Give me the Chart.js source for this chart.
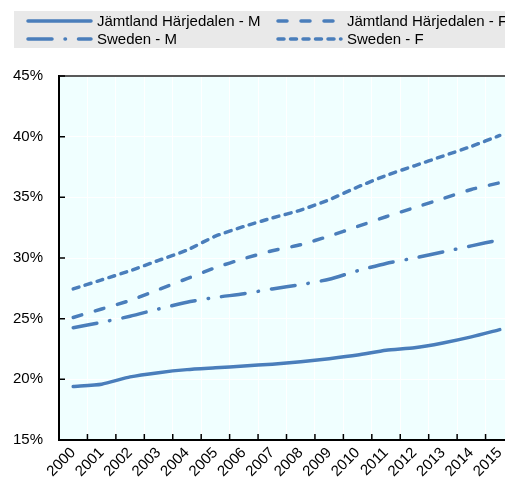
<!DOCTYPE html>
<html lang="en">
<head>
  <meta charset="UTF-8" />
  <title>Jämtland Härjedalen vs Sweden</title>
  <script src="https://cdn.jsdelivr.net/npm/chart.js"></script>
  <style>
    html, body {
      margin: 0;
      padding: 0;
      background: #fff;
      overflow: hidden;
    }
    .wrap {
      position: relative;
      width: 520px;
      height: 479px;
    }
  </style>
</head>
<body>
<div class="wrap">
  <canvas id="chart"></canvas>
</div>

<script>
  // data
  const years = ['2000', '2001', '2002', '2003', '2004', '2005', '2006', '2007',
                 '2008', '2009', '2010', '2011', '2012', '2013', '2014', '2015'];
  const jhMale   = [19.4, 19.6, 20.2, 20.55, 20.8, 20.95, 21.1, 21.25, 21.45, 21.7, 22.0, 22.4, 22.6, 23.0, 23.5, 24.1];
  const jhFemale = [25.1, 25.8, 26.5, 27.4, 28.3, 29.2, 29.95, 30.6, 31.1, 31.8, 32.6, 33.4, 34.15, 34.9, 35.65, 36.2];
  const seMale   = [24.25, 24.7, 25.2, 25.8, 26.35, 26.75, 27.05, 27.45, 27.8, 28.25, 28.95, 29.55, 30.0, 30.5, 31.0, 31.5];
  const seFemale = [27.45, 28.2, 28.95, 29.8, 30.65, 31.8, 32.6, 33.3, 33.95, 34.8, 35.85, 36.8, 37.6, 38.4, 39.2, 40.1];
  const yTicks = [15, 20, 25, 30, 35, 40, 45];

  const blue = '#4a7ebb';
  const font = '"Liberation Sans", Arial, sans-serif';

  function lineSet(label, data, dash) {
    return {
      label: label,
      data: data,
      borderColor: blue,
      backgroundColor: blue,
      borderWidth: 3.5,
      borderDash: dash,
      borderCapStyle: 'round',
      pointRadius: 0,
      tension: 0.2,
      fill: false
    };
  }

  // legend in a grey band, two columns
  const legendBox = {
    id: 'legendBox',
    afterDraw(chart) {
      const ctx = chart.ctx;
      ctx.save();
      ctx.fillStyle = '#e9e9e9';
      ctx.fillRect(14, 11, chart.width - 14, 37);
      const slots = [
        { x: 28, tx: 97, y: 21 },
        { x: 278, tx: 347, y: 21 },
        { x: 28, tx: 97, y: 39 },
        { x: 278, tx: 347, y: 39 }
      ];
      chart.data.datasets.forEach((ds, i) => {
        const s = slots[i];
        ctx.strokeStyle = ds.borderColor;
        ctx.lineWidth = 3.5;
        ctx.lineCap = 'round';
        ctx.setLineDash(ds.borderDash || []);
        ctx.beginPath();
        ctx.moveTo(s.x, s.y);
        ctx.lineTo(s.x + 63, s.y);
        ctx.stroke();
        ctx.setLineDash([]);
        ctx.fillStyle = '#000';
        ctx.font = '15px ' + font;
        ctx.textBaseline = 'middle';
        ctx.textAlign = 'left';
        ctx.fillText(ds.label, s.tx, s.y + 1);
      });
      ctx.restore();
    }
  };

  // plot background, frame and inward tick marks
  const plotFrame = {
    id: 'plotFrame',
    beforeDraw(chart) {
      const a = chart.chartArea;
      const ctx = chart.ctx;
      ctx.save();
      ctx.fillStyle = '#f0ffff';
      ctx.fillRect(a.left, a.top, a.right - a.left, a.bottom - a.top);
      ctx.restore();
    },
    afterDraw(chart) {
      const a = chart.chartArea;
      const ctx = chart.ctx;
      const x = chart.scales.x;
      const y = chart.scales.y;
      ctx.save();
      ctx.strokeStyle = '#222';
      ctx.lineWidth = 1.5;
      ctx.beginPath();
      ctx.moveTo(a.left, a.top);
      ctx.lineTo(a.right, a.top);
      ctx.stroke();
      ctx.strokeStyle = '#000';
      ctx.lineWidth = 1.5;
      ctx.beginPath();
      for (let i = 0; i <= years.length; i++) {
        const px = x.getPixelForValue(i - 0.5);
        ctx.moveTo(px, a.bottom);
        ctx.lineTo(px, a.bottom - 6);
      }
      yTicks.forEach(v => {
        const py = y.getPixelForValue(v);
        ctx.moveTo(a.left, py);
        ctx.lineTo(a.left + 6, py);
      });
      ctx.stroke();
      ctx.restore();
    }
  };

  new Chart(document.getElementById('chart'), {
    type: 'line',
    data: {
      labels: years,
      datasets: [
        lineSet('Jämtland Härjedalen - M', jhMale, []),
        lineSet('Jämtland Härjedalen - F', jhFemale, [9, 14]),
        lineSet('Sweden - M', seMale, [24, 13, 0.5, 13]),
        lineSet('Sweden - F', seFemale, [6, 6.5])
      ]
    },
    options: {
      responsive: true,
      maintainAspectRatio: false,
      animation: false,
      layout: { padding: { left: 0, top: 76, right: 6, bottom: 0 } },
      plugins: {
        legend: { display: false },
        tooltip: { enabled: false }
      },
      scales: {
        x: {
          offset: true,
          afterFit: s => { s.height = 39; },
          grid: { offset: true, color: '#ffffff', lineWidth: 1, drawTicks: false },
          border: { color: '#000', width: 2 },
          ticks: {
            color: '#000',
            font: { family: font, size: 15 },
            maxRotation: 45,
            minRotation: 45,
            autoSkip: false,
            padding: 4
          }
        },
        y: {
          min: 15,
          max: 45,
          afterFit: s => { s.width = 59; },
          afterBuildTicks: s => { s.ticks = yTicks.map(v => ({ value: v })); },
          grid: { color: '#ffffff', lineWidth: 1, drawTicks: false },
          border: { color: '#000', width: 2 },
          ticks: {
            color: '#000',
            font: { family: font, size: 15 },
            padding: 16,
            callback: v => v + '%'
          }
        }
      }
    },
    plugins: [plotFrame, legendBox]
  });
</script>
</body>
</html>
